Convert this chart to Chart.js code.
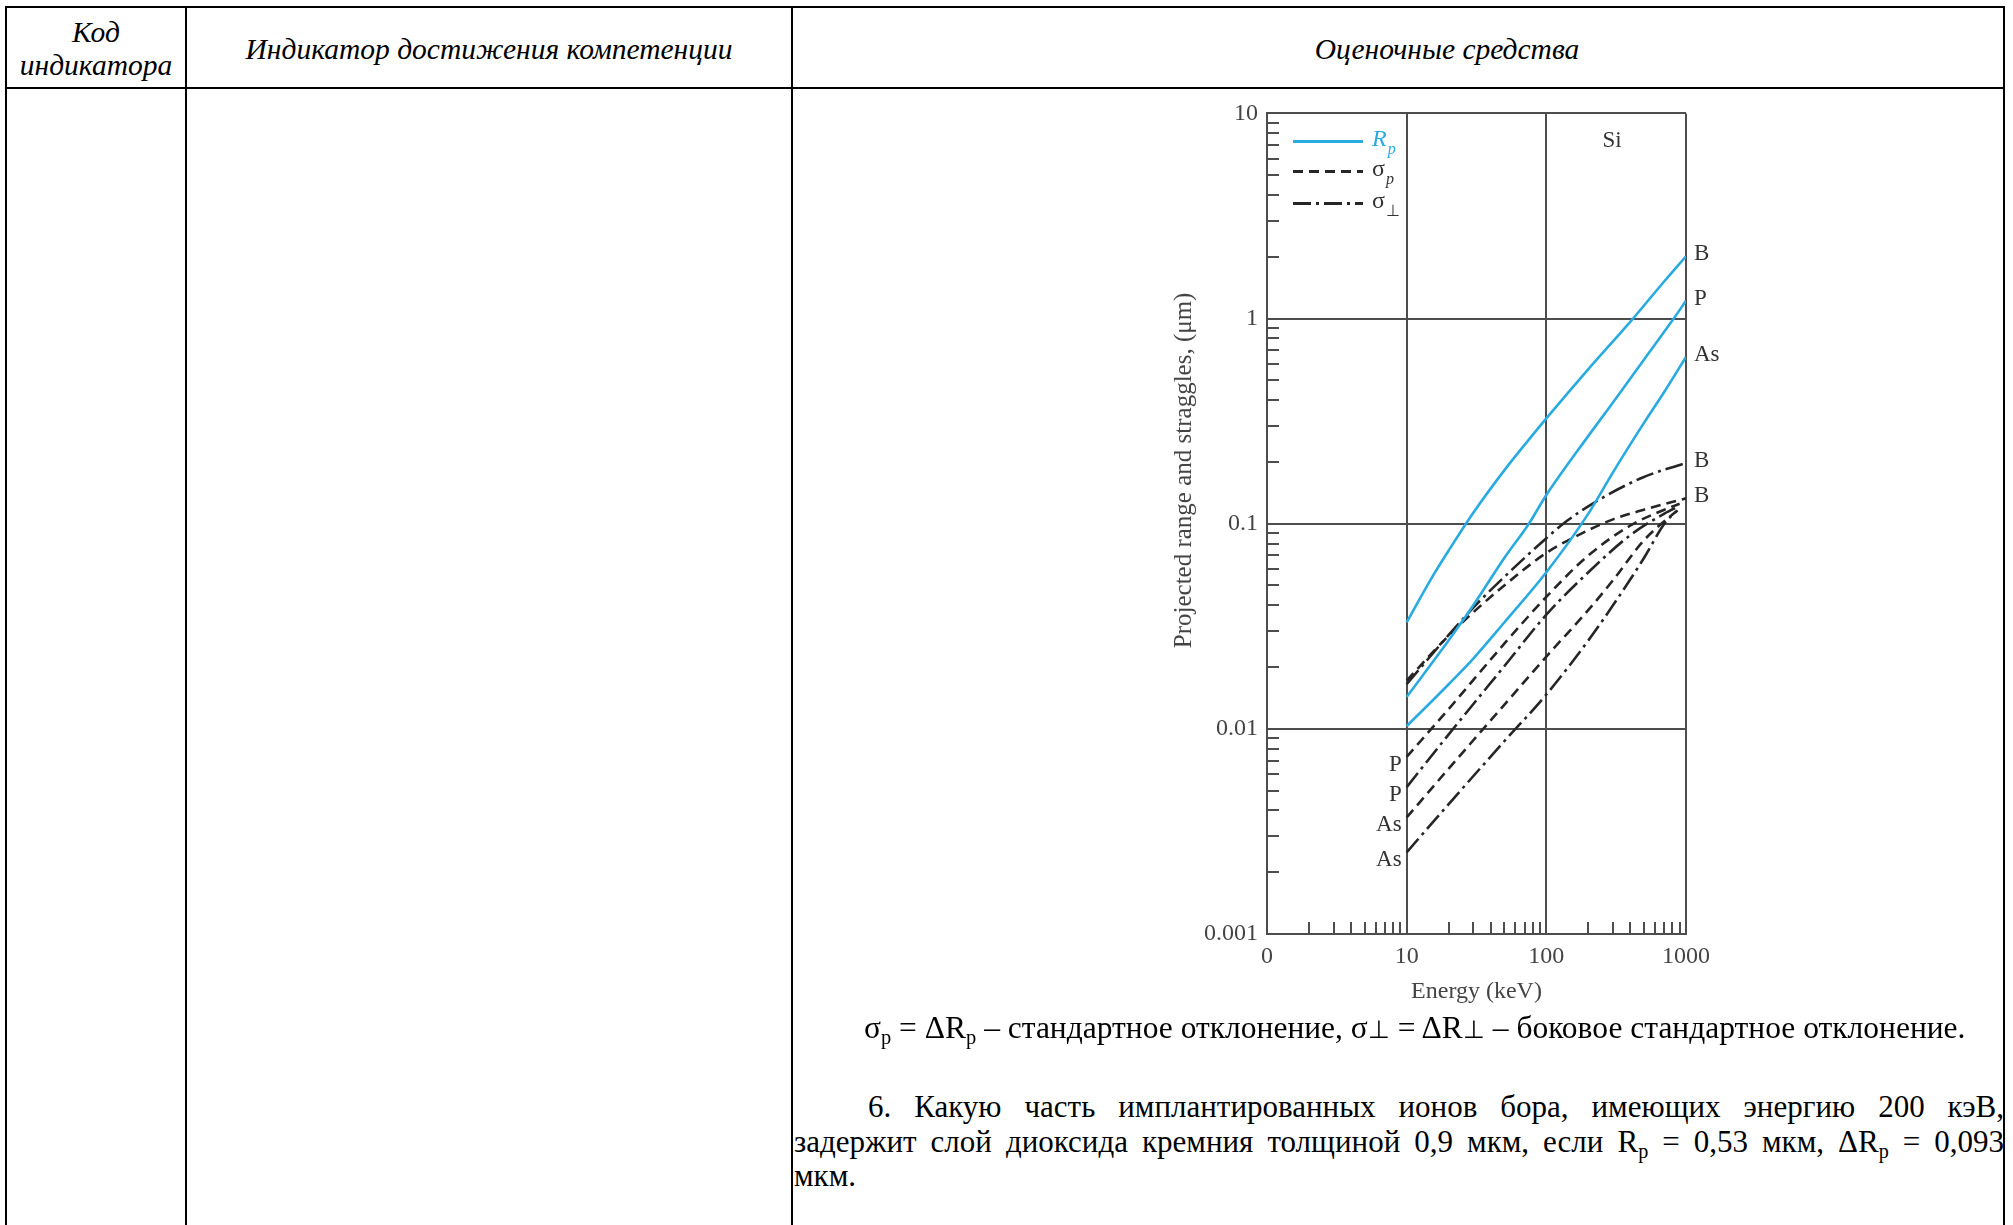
<!DOCTYPE html>
<html><head><meta charset="utf-8">
<script src="https://cdn.jsdelivr.net/npm/chart.js@4.4.1/dist/chart.umd.min.js"></script>
<style>
html,body{margin:0;padding:0;background:#fff;}
body{width:2013px;height:1225px;position:relative;overflow:hidden;font-family:"Liberation Serif","Times New Roman",serif;color:#000;}
.ln{position:absolute;background:#000;}
.hdr{position:absolute;font-style:italic;font-size:29.5px;text-align:center;line-height:33px;white-space:nowrap;}
#chartbox{position:absolute;left:1140px;top:90px;width:620px;height:940px;}
.txt{position:absolute;font-size:31.5px;line-height:34.5px;white-space:nowrap;}
.par{position:absolute;left:794px;top:1090px;width:1210px;font-size:31px;line-height:34.5px;}
.j{text-align:justify;text-align-last:justify;white-space:nowrap;}
sub{font-size:0.65em;vertical-align:-0.28em;line-height:0;}
.perp{font-size:0.8em;}
</style></head>
<body>
<div class="ln" style="left:5px;top:6px;width:2000px;height:2px;"></div>
<div class="ln" style="left:5px;top:87px;width:2000px;height:2px;"></div>
<div class="ln" style="left:5px;top:6px;width:2px;height:1225px;"></div>
<div class="ln" style="left:185px;top:6px;width:2px;height:1225px;"></div>
<div class="ln" style="left:791px;top:6px;width:2px;height:1225px;"></div>
<div class="ln" style="left:2003px;top:6px;width:2px;height:1225px;"></div>

<div class="hdr" style="left:6px;top:16px;width:180px;">Код<br>индикатора</div>
<div class="hdr" style="left:186px;top:33px;width:606px;">Индикатор достижения компетенции</div>
<div class="hdr" style="left:1147px;top:33px;width:600px;">Оценочные средства</div>

<div id="chartbox"><canvas id="c"></canvas></div>

<div class="txt" style="left:864px;top:1011px;">σ<sub>p</sub> = ΔR<sub>p</sub> – стандартное отклонение, σ<span class="perp">⊥</span> = ΔR<span class="perp">⊥</span> – боковое стандартное отклонение.</div>

<div class="par">
<div class="j" style="text-indent:74px;">6. Какую часть имплантированных ионов бора, имеющих энергию 200 кэВ,</div>
<div class="j">задержит слой диоксида кремния толщиной 0,9 мкм, если R<sub>p</sub> = 0,53 мкм, ΔR<sub>p</sub> = 0,093</div>
<div>мкм.</div>
</div>

<script>
// ---- data (energy keV, value µm) ----
const rpB_E = [10, 15, 20, 30, 50, 75, 100, 200, 400, 700, 1000];
const rpB   = [0.033, 0.054, 0.074, 0.113, 0.182, 0.257, 0.326, 0.567, 0.966, 1.52, 2.01];
const rpP_E = [10, 20, 30, 50, 75, 100, 200, 300, 500, 800, 1000];
const rpP   = [0.0143, 0.027, 0.040, 0.068, 0.1, 0.138, 0.268, 0.39, 0.63, 0.98, 1.22];
const rpAs_E = [10, 20, 30, 50, 100, 200, 300, 500, 700, 1000];
const rpAs   = [0.0103, 0.0165, 0.022, 0.033, 0.058, 0.112, 0.178, 0.31, 0.44, 0.65];

const sperpB_E = [10, 20, 30, 50, 100, 140, 230, 490, 1000];
const sperpB   = [0.0165, 0.0287, 0.039, 0.055, 0.085, 0.103, 0.129, 0.168, 0.198];
const spB_E = [10, 20, 30, 50, 100, 200, 300, 500, 1000];
const spB   = [0.0172, 0.0285, 0.037, 0.050, 0.072, 0.093, 0.105, 0.117, 0.133];

const spP_E = [10, 20, 50, 100, 200, 400, 700, 900];
const spP   = [0.0073, 0.0125, 0.026, 0.044, 0.07, 0.098, 0.117, 0.125];
const sperpP_E = [10, 20, 50, 100, 200, 400, 700, 900];
const sperpP   = [0.0052, 0.0094, 0.0202, 0.036, 0.058, 0.088, 0.112, 0.122];
const spAs_E = [10, 20, 50, 100, 200, 300, 500, 800, 900];
const spAs   = [0.0037, 0.0064, 0.0131, 0.0225, 0.038, 0.053, 0.083, 0.111, 0.118];
const sperpAs_E = [10, 20, 50, 100, 200, 300, 500, 700, 850];
const sperpAs   = [0.0025, 0.0043, 0.0087, 0.0147, 0.027, 0.040, 0.068, 0.100, 0.115];

const xTickLabels = ['0', '10', '100', '1000'];          // exponents 0..3
const yTickLabels = ['0.001', '0.01', '0.1', '1', '10']; // exponents -3..1
const xMin = 1, xMax = 1000, yMin = 0.001, yMax = 10;

const BLUE = '#29abe2', DARK = '#262626', GRID = '#4d4d4d', TXT = '#444';
const DASH_P = [10, 6], DASH_PERP = [18, 5, 3, 5];

const pts = (E, V) => E.map((e, i) => ({x: e, y: V[i]}));
const ds = (E, V, kind, endLabel, startLabel) => ({
  data: pts(E, V),
  borderColor: kind === 'rp' ? BLUE : DARK,
  borderWidth: 2.6,
  borderDash: kind === 'sp' ? DASH_P : (kind === 'sperp' ? DASH_PERP : []),
  pointRadius: 0,
  cubicInterpolationMode: 'monotone',
  fill: false,
  endLabel, startLabel
});

const datasets = [
  ds(rpB_E, rpB, 'rp', 'B'),
  ds(rpP_E, rpP, 'rp', 'P'),
  ds(rpAs_E, rpAs, 'rp', 'As'),
  ds(sperpB_E, sperpB, 'sperp', 'B'),
  ds(spB_E, spB, 'sp', 'B'),
  ds(spP_E, spP, 'sp', null, 'P'),
  ds(sperpP_E, sperpP, 'sperp', null, 'P'),
  ds(spAs_E, spAs, 'sp', null, 'As'),
  ds(sperpAs_E, sperpAs, 'sperp', null, 'As')
];

const expOf = v => Math.round(Math.log10(v));
const isDecade = v => Math.abs(Math.log10(v) - expOf(v)) < 1e-6;
const FONT = 'Liberation Serif';

const annot = {
  id: 'annot',
  afterDraw(chart) {
    const {ctx, chartArea: a, scales: {x, y}} = chart;
    ctx.save();
    // inward minor ticks
    ctx.strokeStyle = GRID; ctx.lineWidth = 2; ctx.setLineDash([]);
    ctx.beginPath();
    for (let e = 0; e < 3; e++) for (let m = 2; m <= 9; m++) {
      const px = Math.round(x.getPixelForValue(m * Math.pow(10, e)));
      ctx.moveTo(px, a.bottom); ctx.lineTo(px, a.bottom - 12);
    }
    for (let e = -3; e < 1; e++) for (let m = 2; m <= 9; m++) {
      const py = Math.round(y.getPixelForValue(m * Math.pow(10, e)));
      ctx.moveTo(a.left, py); ctx.lineTo(a.left + 12, py);
    }
    ctx.stroke();

    // curve labels
    ctx.fillStyle = '#333';
    ctx.font = '23px "' + FONT + '"';
    ctx.textBaseline = 'middle';
    chart.data.datasets.forEach(d => {
      if (d.endLabel) {
        const last = d.data[d.data.length - 1];
        ctx.textAlign = 'left';
        ctx.fillText(d.endLabel, a.right + 8, y.getPixelForValue(last.y) - 2);
      }
      if (d.startLabel) {
        const first = d.data[0];
        ctx.textAlign = 'right';
        ctx.fillText(d.startLabel, x.getPixelForValue(first.x) - 5, y.getPixelForValue(first.y) + 8);
      }
    });

    // Si
    ctx.textAlign = 'center';
    ctx.fillStyle = '#333';
    ctx.fillText('Si', a.right - 74, a.top + 28);

    // legend
    const lx0 = a.left + 26, lx1 = a.left + 96, tx = a.left + 105;
    const rows = [
      {dy: 28, color: BLUE, dash: [], main: 'R', sub: 'p', italic: true},
      {dy: 58, color: DARK, dash: DASH_P, main: 'σ', sub: 'p', italic: false},
      {dy: 90, color: DARK, dash: DASH_PERP, main: 'σ', sub: '⊥', italic: false}
    ];
    rows.forEach(r => {
      const yy = a.top + r.dy;
      ctx.strokeStyle = r.color; ctx.lineWidth = 3; ctx.setLineDash(r.dash);
      ctx.beginPath(); ctx.moveTo(lx0, yy); ctx.lineTo(lx1, yy); ctx.stroke();
      ctx.setLineDash([]);
      ctx.fillStyle = r.color === BLUE ? BLUE : '#333';
      ctx.textAlign = 'left';
      ctx.font = (r.italic ? 'italic ' : '') + '24px "' + FONT + '"';
      ctx.fillText(r.main, tx, yy - 2);
      const w = ctx.measureText(r.main).width;
      ctx.font = (r.sub === '⊥' ? '' : 'italic ') + '16px "' + FONT + '"';
      ctx.fillText(r.sub, tx + w + 1, yy + 8);
    });

    // y axis title
    ctx.save();
    ctx.translate(a.left - 83, a.top + 357);
    ctx.rotate(-Math.PI / 2);
    ctx.textAlign = 'center';
    ctx.fillStyle = TXT;
    ctx.font = '25px "' + FONT + '"';
    ctx.fillText('Projected range and straggles, (μm)', 0, 0);
    ctx.restore();
    ctx.restore();
  }
};

new Chart(document.getElementById('c'), {
  type: 'line',
  data: {datasets},
  plugins: [annot],
  options: {
    responsive: true,
    maintainAspectRatio: false,
    animation: false,
    layout: {padding: {left: 0, top: 22, right: 74, bottom: 0}},
    plugins: {legend: {display: false}, tooltip: {enabled: false}},
    scales: {
      x: {
        type: 'logarithmic', min: xMin, max: xMax,
        afterFit: s => { s.height = 96; },
        grid: {
          drawTicks: false, lineWidth: 2,
          color: c => (c.tick && isDecade(c.tick.value)) ? GRID : 'rgba(0,0,0,0)'
        },
        border: {display: true, color: GRID, width: 2},
        ticks: {
          autoSkip: false, maxRotation: 0, padding: 8, color: TXT,
          font: {family: FONT, size: 24},
          callback: v => isDecade(v) ? (xTickLabels[expOf(v)] ?? '') : ''
        },
        title: {display: true, text: 'Energy (keV)', color: TXT, font: {family: FONT, size: 24}, padding: {top: 0, bottom: 24}}
      },
      y: {
        type: 'logarithmic', min: yMin, max: yMax,
        afterFit: s => { s.width = 127; },
        grid: {
          drawTicks: false, lineWidth: 2,
          color: c => (c.tick && isDecade(c.tick.value)) ? GRID : 'rgba(0,0,0,0)'
        },
        border: {display: true, color: GRID, width: 2},
        ticks: {
          autoSkip: false, padding: 9, color: TXT,
          font: {family: FONT, size: 24},
          callback: v => isDecade(v) ? (yTickLabels[expOf(v) + 3] ?? '') : ''
        }
      }
    }
  }
});
</script>
</body></html>
